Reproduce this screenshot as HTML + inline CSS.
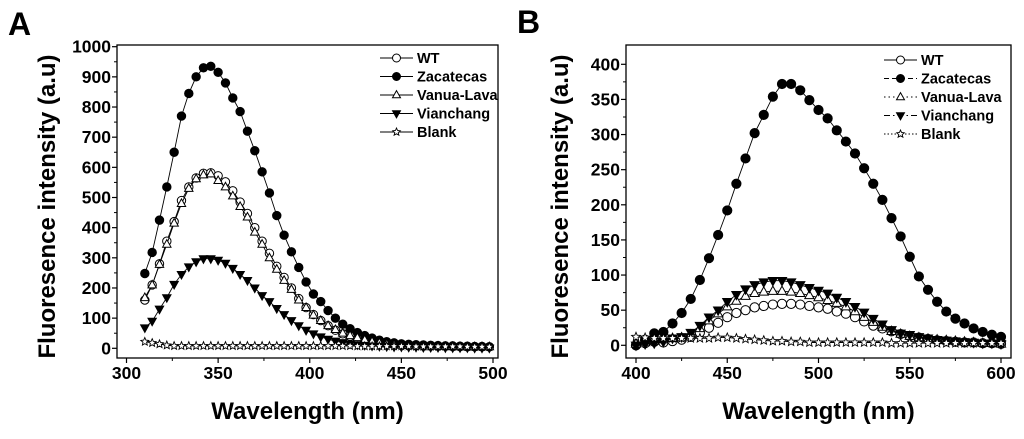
<!DOCTYPE html>
<html><head><meta charset="utf-8"><style>
body{margin:0;background:#fff;width:1024px;height:434px;overflow:hidden}
svg{font-family:"Liberation Sans",Arial,sans-serif;font-weight:bold}
</style></head><body>
<svg id="s" width="1024" height="434" viewBox="0 0 1024 434">
<text x="8" y="35" font-size="32">A</text>
<text x="517" y="33" font-size="32">B</text>
</svg>
<script>
const xA=[];for(let v=310;v<=498;v+=4)xA.push(v);
const aZac=[248,318,425,535,650,770,845,900,930,935,915,880,830,785,720,655,585,515,440,375,320,268,220,180,155,125,100,80,65,52,42,34,27,22,18,15,13,12,11,10,9,8,8,7,7,6,6,5];
const aWT=[160,210,280,355,420,490,535,565,580,582,572,552,522,485,447,400,355,315,272,235,200,165,135,112,92,75,60,48,40,32,26,22,18,15,12,11,10,9,8,8,7,7,6,6,5,5,5,5];
const aVan=[168,210,278,345,415,480,530,562,575,578,556,535,505,470,435,385,345,300,262,225,195,160,135,110,92,75,62,50,42,35,28,22,18,14,12,10,9,8,8,7,7,6,6,5,5,5,5,5];
const aVia=[68,90,130,168,212,245,270,287,297,297,292,282,265,245,225,200,175,155,132,112,92,75,60,48,38,30,24,19,15,12,10,8,7,6,5,5,4,4,3,3,3,2,2,2,2,1,1,1];
const aBlank=[22,18,14,10,8,8,8,8,8,8,8,8,8,8,8,8,8,8,8,8,8,8,8,8,8,8,8,8,8,7,7,7,7,7,7,7,7,6,6,6,6,6,6,6,5,5,5,5];
const xB=[];for(let v=400;v<=600;v+=5)xB.push(v);
const bZac=[0,8,17,19,31,46,66,93,124,157,192,230,266,302,328,354,372,372,363,349,335,323,306,290,273,252,230,207,181,155,126,98,79,62,48,38,31,24,19,15,12];
const bWT=[0,3,5,4,6,8,12,18,25,32,40,46,50,54,56,58,59,59,58,56,54,52,48,45,40,34,28,24,20,16,13,11,9,7,6,5,4,4,3,3,2];
const bVan=[2,4,6,8,10,11,15,24,35,45,55,63,70,74,76,77,77,76,74,71,68,64,60,55,48,40,33,26,20,16,13,11,9,8,7,6,5,4,3,3,2];
const bVia=[0,2,3,5,10,12,18,28,40,50,62,72,80,86,90,92,92,90,86,82,78,74,68,62,55,47,38,30,22,17,15,12,10,8,7,6,5,4,3,3,2];
const bBlank=[12,11,10,10,10,10,10,10,10,11,11,10,9,8,7,6,6,5,5,4,4,4,4,4,4,4,4,4,3,3,3,3,3,3,3,3,3,3,3,3,3];
const ticksA=[0,100,200,300,400,500,600,700,800,900,1000];
const ticksAx=[300,350,400,450,500];
const ticksB=[0,50,100,150,200,250,300,350,400];
const ticksBx=[400,450,500,550,600];
const names=["WT","Zacatecas","Vanua-Lava","Vianchang","Blank"];
const NS="http://www.w3.org/2000/svg";
const svg=document.getElementById('s');
function mk(t,a,p){const e=document.createElementNS(NS,t);for(const k in a)e.setAttribute(k,a[k]);(p||svg).appendChild(e);return e;}
function marker(g,type,x,y,r){
 let e;
 if(type==='oc'||type==='fc'){e=mk('circle',{cx:x,cy:y,r:r,fill:type==='fc'?'#000':'#fff',stroke:'#000','stroke-width':1},g);}
 else if(type==='tu'){e=mk('polygon',{points:`${x},${y-r*1.1} ${x-r},${y+r*0.7} ${x+r},${y+r*0.7}`,fill:'#fff',stroke:'#000','stroke-width':1},g);}
 else if(type==='td'){e=mk('polygon',{points:`${x},${y+r*1.1} ${x-r},${y-r*0.7} ${x+r},${y-r*0.7}`,fill:'#000',stroke:'#000','stroke-width':1},g);}
 else{let p=[];for(let i=0;i<10;i++){const rr=i%2?r*0.45:r;const a=-Math.PI/2+i*Math.PI/5;p.push((x+rr*Math.cos(a)).toFixed(1)+','+(y+rr*Math.sin(a)).toFixed(1));}
  e=mk('polygon',{points:p.join(' '),fill:'#fff',stroke:'#000','stroke-width':0.9},g);}
 return e;
}
const types=['oc','fc','tu','td','st'];
function panel(P){
 const g=mk('g',{});
 
 
 const sx=v=>P.x0+(v-P.xmin)*(P.x1-P.x0)/(P.xmax-P.xmin);
 const sy=v=>P.y0+(v-P.ymin)*(P.y1-P.y0)/(P.ymax-P.ymin);
 const box=mk('rect',{x:P.L,y:P.T,width:P.R-P.L,height:P.B-P.T,fill:'none',stroke:'#000','stroke-width':1.3},g);
 
 
 P.yt.forEach(v=>{const y=sy(v);mk('line',{x1:P.L-5,x2:P.L,y1:y,y2:y,stroke:'#000','stroke-width':1.2},g);
  const t=mk('text',{x:P.L-6,y:y+6,'font-size':17.5,'text-anchor':'end'},g);t.textContent=v;
  
  
  const h=v+P.ystep/2;if(h<P.ymax+P.ystep*0.3&&sy(h)>P.T){mk('line',{x1:P.L-3,x2:P.L,y1:sy(h),y2:sy(h),stroke:'#000','stroke-width':1},g);}});
 P.xt.forEach(v=>{const x=sx(v);mk('line',{x1:x,x2:x,y1:P.B,y2:P.B+5,stroke:'#000','stroke-width':1.2},g);
  const t=mk('text',{x:x,y:P.B+21,'font-size':17.5,'text-anchor':'middle'},g);t.textContent=v;
  
  
  const h=v+P.xstep/2;if(h<P.xmax){mk('line',{x1:sx(h),x2:sx(h),y1:P.B,y2:P.B+3,stroke:'#000','stroke-width':1},g);}});
 const xt=mk('text',{x:(P.L+P.R)/2,y:P.B+61,'font-size':24,'text-anchor':'middle'},g);xt.textContent='Wavelength (nm)';
 
 
 const yc=(P.T+P.B)/2+5;
 const yt=mk('text',{x:P.ytx,y:yc,'font-size':24,'text-anchor':'middle',transform:`rotate(-90 ${P.ytx} ${yc})`},g);yt.textContent='Fluoresence intensity (a.u)';
 
 
 P.series.forEach((s,i)=>{
  const sg=mk('g',{},g);
  
  
  const pts=P.xs.map((v,j)=>sx(v).toFixed(1)+','+sy(s[j]).toFixed(1)).join(' ');
  mk('polyline',{points:pts,fill:'none',stroke:'#000','stroke-width':0.9},sg);
  P.xs.forEach((v,j)=>{const m=marker(sg,types[i],sx(v),sy(s[j]),P.r);
   
   });
 });
 const lg=mk('g',{},g);
 
 
 names.forEach((n,i)=>{const y=P.ly+i*18.5;
  const dash=P.dashes[i];
  mk('line',{x1:P.lx,x2:P.lx+33,y1:y,y2:y,stroke:'#000','stroke-width':1,'stroke-dasharray':dash},lg);
  marker(lg,types[i],P.lx+16.5,y,4);
  const t=mk('text',{x:P.lx+37,y:y+5,'font-size':14.5},lg);t.textContent=n;
  
  });
}
panel({id:'panel-a',L:117,T:45,R:498,B:358,x0:126.5,x1:493,xmin:300,xmax:500,y0:348.3,y1:46.7,ymin:0,ymax:1000,
 yt:ticksA,xt:ticksAx,ystep:100,xstep:50,ytx:55,xs:xA,series:[aWT,aZac,aVan,aVia,aBlank],r:4.2,
 lx:380,ly:58,dashes:['none','none','none','none','none']});
panel({id:'panel-b',L:626,T:45,R:1011,B:358,x0:636,x1:1001,xmin:400,xmax:600,y0:345.3,y1:64.3,ymin:0,ymax:400,
 yt:ticksB,xt:ticksBx,ystep:50,xstep:50,ytx:568,xs:xB,series:[bWT,bZac,bVan,bVia,bBlank],r:4.6,
 lx:884,ly:60,dashes:['none','5,3','1.5,3','6,3,1.5,3','1.5,2']});
</script>
</body></html>
